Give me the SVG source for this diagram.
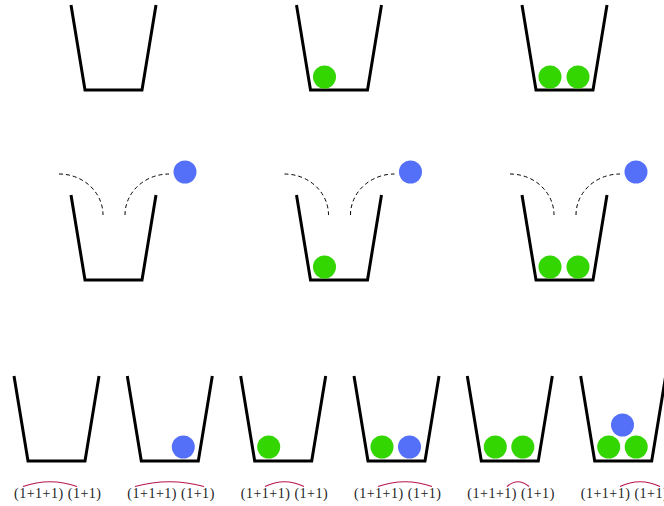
<svg xmlns="http://www.w3.org/2000/svg" xmlns:xlink="http://www.w3.org/1999/xlink" width="664" height="506" viewBox="0 0 664 506">
<style>
.bk{fill:none;stroke:#000;stroke-width:3;stroke-linejoin:miter}
.g{fill:#33d600}
.b{fill:#5470f8}
.d{fill:none;stroke:#000;stroke-width:1;stroke-dasharray:4 3}
.a{fill:none;stroke:#b8154f;stroke-width:1.2}
.t{font-family:"Liberation Serif",serif;font-size:14px;fill:#222}
</style>
<defs>
<path id="bucket" class="bk" d="M0,0 L14,85 L71,85 L85,0"/>
<g id="drops">
<path class="d" d="M-12,-21 A44 41 0 0 1 32,20"/>
<path class="d" d="M54,20 A44 41 0 0 1 98,-21"/>
</g>
</defs>
<g id="row1">
<g id="r1b1"><use xlink:href="#bucket" x="71" y="5"/></g>
<g id="r1b2"><use xlink:href="#bucket" x="296.5" y="5"/><circle class="g" cx="324.5" cy="77" r="11.5"/></g>
<g id="r1b3"><use xlink:href="#bucket" x="522" y="5"/><circle class="g" cx="550" cy="77" r="11.5"/><circle class="g" cx="578" cy="77" r="11.5"/></g>
</g>
<g id="row2">
<g id="r2b1"><use xlink:href="#bucket" x="71" y="195"/><use xlink:href="#drops" x="71" y="195"/><circle class="b" cx="185" cy="172" r="11.5"/></g>
<g id="r2b2"><use xlink:href="#bucket" x="296.5" y="195"/><use xlink:href="#drops" x="296.5" y="195"/><circle class="b" cx="410.5" cy="172" r="11.5"/><circle class="g" cx="324.5" cy="267" r="11.5"/></g>
<g id="r2b3"><use xlink:href="#bucket" x="522" y="195"/><use xlink:href="#drops" x="522" y="195"/><circle class="b" cx="636" cy="172" r="11.5"/><circle class="g" cx="550" cy="267" r="11.5"/><circle class="g" cx="578" cy="267" r="11.5"/></g>
</g>
<g id="row3">
<g id="r3b1"><use xlink:href="#bucket" x="14" y="376"/><text class="t" x="14" y="498" textLength="87" lengthAdjust="spacing">(1+1+1) (1+1)</text></g>
<g id="r3b2"><use xlink:href="#bucket" x="127.3" y="376"/><circle class="b" cx="183.3" cy="447" r="11.5"/><text class="t" x="127.3" y="498" textLength="87" lengthAdjust="spacing">(1+1+1) (1+1)</text></g>
<g id="r3b3"><use xlink:href="#bucket" x="240.7" y="376"/><circle class="g" cx="268.7" cy="447" r="11.5"/><text class="t" x="240.7" y="498" textLength="87" lengthAdjust="spacing">(1+1+1) (1+1)</text></g>
<g id="r3b4"><use xlink:href="#bucket" x="354" y="376"/><circle class="g" cx="382" cy="447" r="11.5"/><circle class="b" cx="409.5" cy="447" r="11.5"/><text class="t" x="354" y="498" textLength="87" lengthAdjust="spacing">(1+1+1) (1+1)</text></g>
<g id="r3b5"><use xlink:href="#bucket" x="467.3" y="376"/><circle class="g" cx="495.3" cy="447" r="11.5"/><circle class="g" cx="522.8" cy="447" r="11.5"/><text class="t" x="467.3" y="498" textLength="87" lengthAdjust="spacing">(1+1+1) (1+1)</text></g>
<g id="r3b6"><use xlink:href="#bucket" x="580.7" y="376"/><circle class="g" cx="608.7" cy="447" r="11.5"/><circle class="g" cx="636.2" cy="447" r="11.5"/><circle class="b" cx="622.5" cy="425" r="11.5"/><text class="t" x="580.7" y="498" textLength="87" lengthAdjust="spacing">(1+1+1) (1+1)</text></g>
</g>
<g id="connectors">
<path class="a" d="M23,486.5 Q50,477 77,486.5"/>
<path class="a" d="M135,486.5 Q169.5,477 204,486.5"/>
<path class="a" d="M265,486.5 Q284.5,477 304,486.5"/>
<path class="a" d="M378,486.5 Q405,477 432,486.5"/>
<path class="a" d="M507,486.5 Q518,477 529,486.5"/>
<path class="a" d="M620,486.5 Q640,477 660,486.5"/>
</g>
</svg>
